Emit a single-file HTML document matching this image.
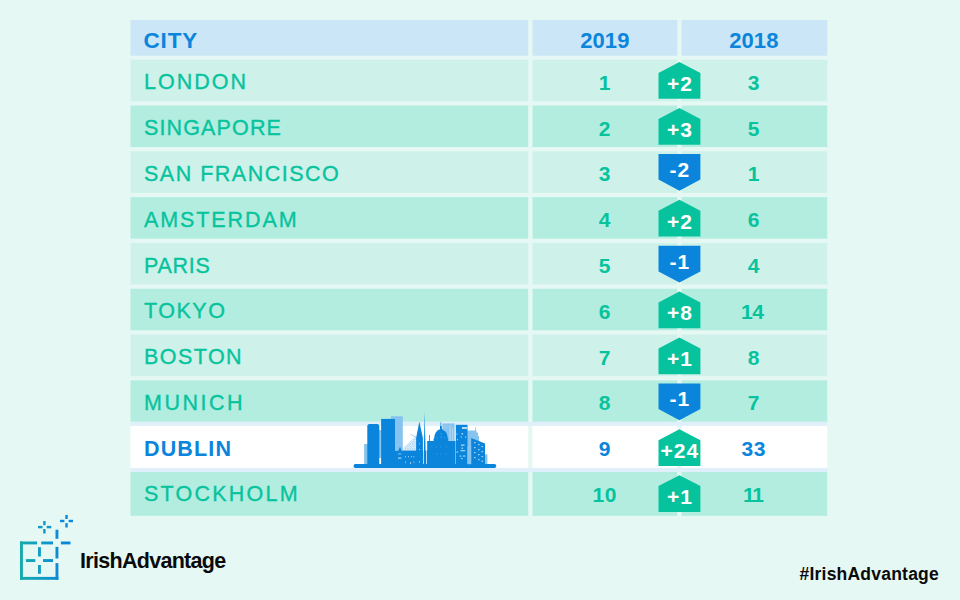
<!DOCTYPE html>
<html><head><meta charset="utf-8"><title>Tech cities</title>
<style>
html,body{margin:0;padding:0}
body{width:960px;height:600px;background:#e5f8f3;position:relative;overflow:hidden;font-family:"Liberation Sans",sans-serif}
.c{position:absolute}
.t{position:absolute;white-space:nowrap;line-height:1}
.city{font-size:21.5px;-webkit-text-stroke:0.35px;color:#07c39d;letter-spacing:2.4px;left:144px}
.num{font-size:21px;font-weight:bold;color:#07c39d;text-align:center;width:100px;letter-spacing:0.5px}
.hd{font-size:22px;font-weight:bold;color:#0b85dc;letter-spacing:0.1px}
.bt{font-size:21px;font-weight:bold;fill:#fff;letter-spacing:1px}
</style></head><body>

<svg class="c" style="left:0;top:0" width="960" height="600" viewBox="0 0 960 600">
<rect x="130.50" y="20.00" width="397.70" height="35.70" fill="#cbe6f6"/>
<rect x="532.50" y="20.00" width="144.80" height="35.70" fill="#cbe6f6"/>
<rect x="681.50" y="20.00" width="145.80" height="35.70" fill="#cbe6f6"/>
<rect x="130.50" y="59.70" width="397.70" height="41.55" fill="#cef2ea"/>
<rect x="532.50" y="59.70" width="144.80" height="41.55" fill="#cef2ea"/>
<rect x="681.50" y="59.70" width="145.80" height="41.55" fill="#cef2ea"/>
<rect x="130.50" y="105.51" width="397.70" height="41.55" fill="#b2ede0"/>
<rect x="532.50" y="105.51" width="144.80" height="41.55" fill="#b2ede0"/>
<rect x="681.50" y="105.51" width="145.80" height="41.55" fill="#b2ede0"/>
<rect x="130.50" y="151.32" width="397.70" height="41.55" fill="#cef2ea"/>
<rect x="532.50" y="151.32" width="144.80" height="41.55" fill="#cef2ea"/>
<rect x="681.50" y="151.32" width="145.80" height="41.55" fill="#cef2ea"/>
<rect x="130.50" y="197.13" width="397.70" height="41.55" fill="#b2ede0"/>
<rect x="532.50" y="197.13" width="144.80" height="41.55" fill="#b2ede0"/>
<rect x="681.50" y="197.13" width="145.80" height="41.55" fill="#b2ede0"/>
<rect x="130.50" y="242.94" width="397.70" height="41.55" fill="#cef2ea"/>
<rect x="532.50" y="242.94" width="144.80" height="41.55" fill="#cef2ea"/>
<rect x="681.50" y="242.94" width="145.80" height="41.55" fill="#cef2ea"/>
<rect x="130.50" y="288.75" width="397.70" height="41.55" fill="#b2ede0"/>
<rect x="532.50" y="288.75" width="144.80" height="41.55" fill="#b2ede0"/>
<rect x="681.50" y="288.75" width="145.80" height="41.55" fill="#b2ede0"/>
<rect x="130.50" y="334.56" width="397.70" height="41.55" fill="#cef2ea"/>
<rect x="532.50" y="334.56" width="144.80" height="41.55" fill="#cef2ea"/>
<rect x="681.50" y="334.56" width="145.80" height="41.55" fill="#cef2ea"/>
<rect x="130.50" y="380.37" width="397.70" height="41.55" fill="#b2ede0"/>
<rect x="532.50" y="380.37" width="144.80" height="41.55" fill="#b2ede0"/>
<rect x="681.50" y="380.37" width="145.80" height="41.55" fill="#b2ede0"/>
<rect x="130.50" y="421.70" width="696.80" height="4.30" fill="#e0f0fa"/>
<rect x="130.50" y="467.80" width="696.80" height="4.30" fill="#e0f0fa"/>
<rect x="130.50" y="425.90" width="397.70" height="41.90" fill="#ffffff"/>
<rect x="532.50" y="425.90" width="144.80" height="41.90" fill="#ffffff"/>
<rect x="681.50" y="425.90" width="145.80" height="41.90" fill="#ffffff"/>
<rect x="130.50" y="472.00" width="397.70" height="43.80" fill="#b2ede0"/>
<rect x="532.50" y="472.00" width="144.80" height="43.80" fill="#b2ede0"/>
<rect x="681.50" y="472.00" width="145.80" height="43.80" fill="#b2ede0"/>
</svg>
<svg class="c" style="left:0;top:0" width="960" height="600" viewBox="0 0 960 600">
<defs><pattern id="hatch" width="2.4" height="2.4" patternUnits="userSpaceOnUse"><rect width="2.4" height="2.4" fill="#f2f8fd"/><path d="M0 0L2.4 2.4M2.4 0L0 2.4" stroke="#86c3ef" stroke-width="0.5"/></pattern></defs>
<g fill="#86c3ef">
<rect x="364.1" y="444" width="4" height="21"/>
<rect x="379" y="430" width="2.3" height="28"/>
<rect x="391" y="416.2" width="11.8" height="34"/>
<rect x="442.4" y="423.4" width="12.2" height="19"/>
<path d="M467 430.5H476.5V432.5H478V436H479V465H467Z"/>
<rect x="475" y="427.2" width="0.8" height="4"/>
<rect x="485" y="454.3" width="2.4" height="11"/>
</g>
<path d="M402.6 450.5L404 447.6L415.8 436.2V450.5Z" fill="url(#hatch)"/>
<path d="M410.6 434.2L416.2 437.4" stroke="#86c3ef" stroke-width="0.8" fill="none"/>
<g fill="#0b85dc">
<rect x="353.5" y="464.1" width="142.8" height="3.8" rx="1.9"/>
<path d="M367.3 465V426.2Q367.3 424 369.5 424H377.1Q379.3 424 379.3 426.2V465Z"/>
<rect x="381.1" y="418.9" width="13.9" height="46.1"/>
<path d="M394 465V450.5H398.4L400 446.7L401.6 450.5H428V465Z"/>
<path d="M419.35 421.5L422.9 438V465H416.1V438Z"/>
<path d="M424.65 411.5L425.9 465H423.5Z"/>
<path d="M427.2 465V441.1H429V435H429.8V441.1H433.6V438.4H434.1A6.9 9.2 0 0 1 440 429.3V426H440.5V422.2H441.2V426H441.9V429.3A6.9 9.2 0 0 1 447.8 438.4H448.2V441.1H455.4V465Z"/>
<rect x="455.8" y="424.8" width="11.7" height="40.2"/>
<path d="M471.2 438L485 443.5V465H471.2Z"/>
</g>
<g fill="#86c3ef">
<rect x="467.4" y="446" width="3.7" height="18.2"/>
</g>
<g fill="#ffffff">
<rect x="423.0" y="444" width="0.7" height="20"/>
<rect x="426.3" y="444" width="0.7" height="20"/>
<rect x="462" y="427.3" width="5" height="1.4"/>
</g>
<g fill="#9fd0f3">
<rect x="443.5" y="425.5" width="4" height="0.9"/><rect x="443.5" y="427.6" width="4" height="0.9"/><rect x="443.5" y="429.7" width="3" height="0.9"/>
<rect x="449.5" y="425" width="1" height="16" fill="#b9dcf6"/><rect x="452" y="428" width="0.8" height="13" fill="#b9dcf6"/>
<rect x="461.5" y="433" width="1.6" height="1.6"/><rect x="460.8" y="436.5" width="1.2" height="1.2"/><rect x="465" y="436.5" width="1.2" height="1.2"/>
<rect x="461" y="444.5" width="3.6" height="1.4"/><rect x="461.5" y="447.5" width="1.6" height="1.4"/><rect x="460.5" y="450" width="4.6" height="1.3"/>
<rect x="459.5" y="455.5" width="2" height="1.2"/><rect x="463" y="455.5" width="2.4" height="1.2"/><rect x="461" y="458" width="1.6" height="1.2"/>
<rect x="456.5" y="433.5" width="1" height="1.2"/><rect x="457" y="439" width="1" height="1.2"/><rect x="456.5" y="451.5" width="1.6" height="1.2"/>
<rect x="474" y="442" width="1.6" height="1.2"/><rect x="478" y="444" width="1.6" height="1.2"/><rect x="481.5" y="446" width="1.6" height="1.2"/>
<rect x="474" y="447" width="1.6" height="1.2"/><rect x="478" y="449" width="1.6" height="1.2"/><rect x="481.5" y="451" width="1.6" height="1.2"/>
<rect x="474" y="452" width="1.6" height="1.2"/><rect x="478" y="454" width="1.6" height="1.2"/><rect x="481.5" y="456" width="1.6" height="1.2"/>
<rect x="474" y="457" width="1.6" height="1.2"/><rect x="478" y="459" width="1.6" height="1.2"/><rect x="481.5" y="460.5" width="1.6" height="1.2"/>
<rect x="419" y="443.2" width="0.9" height="1.1"/><rect x="419" y="449" width="0.9" height="1.1"/><rect x="419" y="461" width="0.9" height="1.6"/>
<rect x="398" y="453.5" width="3.4" height="0.8"/><rect x="398" y="457.5" width="3.4" height="1.3"/>
<rect x="405" y="456" width="0.8" height="1.4"/><rect x="408" y="456" width="0.8" height="1.4"/><rect x="411" y="456" width="0.8" height="1.4"/><rect x="413.5" y="456" width="0.8" height="1.4"/>
<rect x="405" y="461.5" width="0.8" height="1.6"/><rect x="410" y="462.5" width="0.9" height="1.2" fill="#fff"/><rect x="413.5" y="461.5" width="0.8" height="1.4"/>
<rect x="440" y="433.5" width="2" height="0.7" fill="#3d9fe6"/><rect x="436.5" y="437" width="0.8" height="1.4" fill="#3d9fe6"/><rect x="440.5" y="436.5" width="1.4" height="1.4" fill="#3d9fe6"/><rect x="444.3" y="437" width="0.8" height="1.4" fill="#3d9fe6"/>
<rect x="431.5" y="446" width="0.8" height="1.6" fill="#2f97e3"/><rect x="436" y="446" width="0.8" height="1.6" fill="#2f97e3"/><rect x="440" y="446" width="0.8" height="1.6" fill="#2f97e3"/><rect x="446" y="446" width="0.8" height="1.6" fill="#2f97e3"/>
<rect x="436" y="453.5" width="1.6" height="1" fill="#2f97e3"/><rect x="440" y="453.5" width="1.6" height="1" fill="#2f97e3"/><rect x="445" y="453.5" width="1.6" height="1" fill="#2f97e3"/>
<rect x="455.2" y="441" width="0.5" height="22" fill="#5aaeea"/>
</g>
</svg>

<div class="t city" id="c0" style="top:72.4px;letter-spacing:2.00px;">LONDON</div>
<div class="t num" id="a0" style="left:554.8px;top:71.9px;color:#07c39d">1</div>
<div class="t num" id="b0" style="left:703.8px;top:71.9px;color:#07c39d;">3</div>
<div class="t city" id="c1" style="top:118.2px;letter-spacing:1.13px;">SINGAPORE</div>
<div class="t num" id="a1" style="left:554.8px;top:117.7px;color:#07c39d">2</div>
<div class="t num" id="b1" style="left:703.8px;top:117.7px;color:#07c39d;">5</div>
<div class="t city" id="c2" style="top:163.9px;letter-spacing:1.50px;">SAN FRANCISCO</div>
<div class="t num" id="a2" style="left:554.8px;top:163.4px;color:#07c39d">3</div>
<div class="t num" id="b2" style="left:703.8px;top:163.4px;color:#07c39d;">1</div>
<div class="t city" id="c3" style="top:209.7px;letter-spacing:1.90px;">AMSTERDAM</div>
<div class="t num" id="a3" style="left:554.8px;top:209.2px;color:#07c39d">4</div>
<div class="t num" id="b3" style="left:703.8px;top:209.2px;color:#07c39d;">6</div>
<div class="t city" id="c4" style="top:255.5px;letter-spacing:0.70px;">PARIS</div>
<div class="t num" id="a4" style="left:554.8px;top:255.0px;color:#07c39d">5</div>
<div class="t num" id="b4" style="left:703.8px;top:255.0px;color:#07c39d;">4</div>
<div class="t city" id="c5" style="top:301.2px;letter-spacing:1.50px;">TOKYO</div>
<div class="t num" id="a5" style="left:554.8px;top:300.8px;color:#07c39d">6</div>
<div class="t num" id="b5" style="left:703.8px;top:300.8px;color:#07c39d;letter-spacing:-0.3px;margin-left:-1.5px;">14</div>
<div class="t city" id="c6" style="top:347.0px;letter-spacing:1.44px;">BOSTON</div>
<div class="t num" id="a6" style="left:554.8px;top:346.5px;color:#07c39d">7</div>
<div class="t num" id="b6" style="left:703.8px;top:346.5px;color:#07c39d;">8</div>
<div class="t city" id="c7" style="top:392.8px;letter-spacing:2.52px;">MUNICH</div>
<div class="t num" id="a7" style="left:554.8px;top:392.3px;color:#07c39d">8</div>
<div class="t num" id="b7" style="left:703.8px;top:392.3px;color:#07c39d;">7</div>
<div class="t city" id="c8" style="top:438.6px;letter-spacing:1.16px;color:#0b85dc;font-weight:bold;-webkit-text-stroke:0;">DUBLIN</div>
<div class="t num" id="a8" style="left:554.8px;top:438.1px;color:#0b85dc">9</div>
<div class="t num" id="b8" style="left:703.8px;top:438.1px;color:#0b85dc;">33</div>
<div class="t city" id="c9" style="top:484.3px;letter-spacing:2.23px;">STOCKHOLM</div>
<div class="t num" id="a9" style="left:554.8px;top:483.8px;color:#07c39d">10</div>
<div class="t num" id="b9" style="left:703.8px;top:483.8px;color:#07c39d;letter-spacing:-1.2px;margin-left:-1px;">11</div>
<div class="t hd" id="h0" style="left:143.4px;top:29.6px;font-size:22.5px;letter-spacing:0.9px">CITY</div>
<div class="t hd" id="h1" style="left:554.8px;top:29.8px;width:100px;text-align:center">2019</div>
<div class="t hd" id="h2" style="left:703.8px;top:29.8px;width:100px;text-align:center">2018</div>
<svg class="c" style="left:0;top:0" width="960" height="600" viewBox="0 0 960 600">
<path d="M679.4 62.1L700.4 73.0V98.8H658.5V73.0Z" fill="#07c39d"/>
<text id="d0" class="bt" x="679.9" y="90.8" text-anchor="middle">+2</text>
<path d="M679.4 108.0L700.4 118.9V144.7H658.5V118.9Z" fill="#07c39d"/>
<text id="d1" class="bt" x="679.9" y="136.7" text-anchor="middle">+3</text>
<path d="M658.5 154.0H700.4V179.6L679.4 190.7L658.5 179.6Z" fill="#0b85dc"/>
<text id="d2" class="bt" x="679.9" y="176.8" text-anchor="middle">-2</text>
<path d="M679.4 199.8L700.4 210.7V236.5H658.5V210.7Z" fill="#07c39d"/>
<text id="d3" class="bt" x="679.9" y="228.5" text-anchor="middle">+2</text>
<path d="M658.5 245.8H700.4V271.4L679.4 282.5L658.5 271.4Z" fill="#0b85dc"/>
<text id="d4" class="bt" x="679.9" y="268.6" text-anchor="middle">-1</text>
<path d="M679.4 291.6L700.4 302.5V328.3H658.5V302.5Z" fill="#07c39d"/>
<text id="d5" class="bt" x="679.9" y="320.3" text-anchor="middle">+8</text>
<path d="M679.4 337.5L700.4 348.4V374.2H658.5V348.4Z" fill="#07c39d"/>
<text id="d6" class="bt" x="679.9" y="366.2" text-anchor="middle">+1</text>
<path d="M658.5 383.5H700.4V409.1L679.4 420.2L658.5 409.1Z" fill="#0b85dc"/>
<text id="d7" class="bt" x="679.9" y="406.3" text-anchor="middle">-1</text>
<path d="M679.4 429.3L700.4 440.2V466.0H658.5V440.2Z" fill="#07c39d"/>
<text id="d8" class="bt" x="679.9" y="458.0" text-anchor="middle">+24</text>
<path d="M679.4 475.2L700.4 486.1V511.9H658.5V486.1Z" fill="#07c39d"/>
<text id="d9" class="bt" x="679.9" y="503.9" text-anchor="middle">+1</text>
</svg>
<svg class="c" style="left:0;top:0" width="960" height="600" viewBox="0 0 960 600">
<defs><linearGradient id="lg" gradientUnits="userSpaceOnUse" x1="20" y1="0" x2="62" y2="0"><stop offset="0" stop-color="#15aaab"/><stop offset="0.5" stop-color="#119bc3"/><stop offset="1" stop-color="#0b87dc"/></linearGradient></defs>
<g fill="url(#lg)">
<rect x="20" y="541.5" width="2.9" height="38.3"/>
<rect x="20" y="576.9" width="38.4" height="2.9"/>
<rect x="55.5" y="563.1" width="2.9" height="16.7"/>
<rect x="20" y="541.5" width="17.1" height="2.9"/>
<rect x="41.2" y="541.5" width="11.8" height="2.9"/>
<rect x="60.9" y="541.5" width="9.6" height="2.9"/>
<rect x="55.5" y="529.7" width="2.9" height="9.1"/>
<rect x="55.5" y="546.9" width="2.9" height="11.6"/>
<rect x="38" y="547.2" width="2.9" height="9.3"/>
<rect x="38" y="565" width="2.9" height="8.8"/>
<rect x="25.9" y="559.1" width="9.4" height="2.9"/>
<rect x="43" y="559.1" width="10" height="2.9"/>
<rect x="38" y="525.9" width="4.5" height="2.4"/>
<rect x="46.7" y="525.9" width="4.5" height="2.4"/>
<rect x="43.2" y="521" width="2.4" height="4.2"/>
<rect x="43.2" y="529" width="2.4" height="4.5"/>
<rect x="60" y="519.8" width="4.4" height="2.4"/>
<rect x="68.6" y="519.8" width="4.4" height="2.4"/>
<rect x="65.3" y="515" width="2.4" height="4"/>
<rect x="65.3" y="523.1" width="2.4" height="4.4"/>
</g>
</svg>

<div class="t" id="brand" style="left:80px;top:551.2px;font-size:21.5px;font-weight:bold;letter-spacing:-0.7px;color:#0a0a0a">IrishAdvantage</div>
<div class="t" id="hash" style="left:799.5px;top:566px;font-size:17.5px;font-weight:bold;letter-spacing:0.22px;color:#0a0a0a">#IrishAdvantage</div>
</body></html>
